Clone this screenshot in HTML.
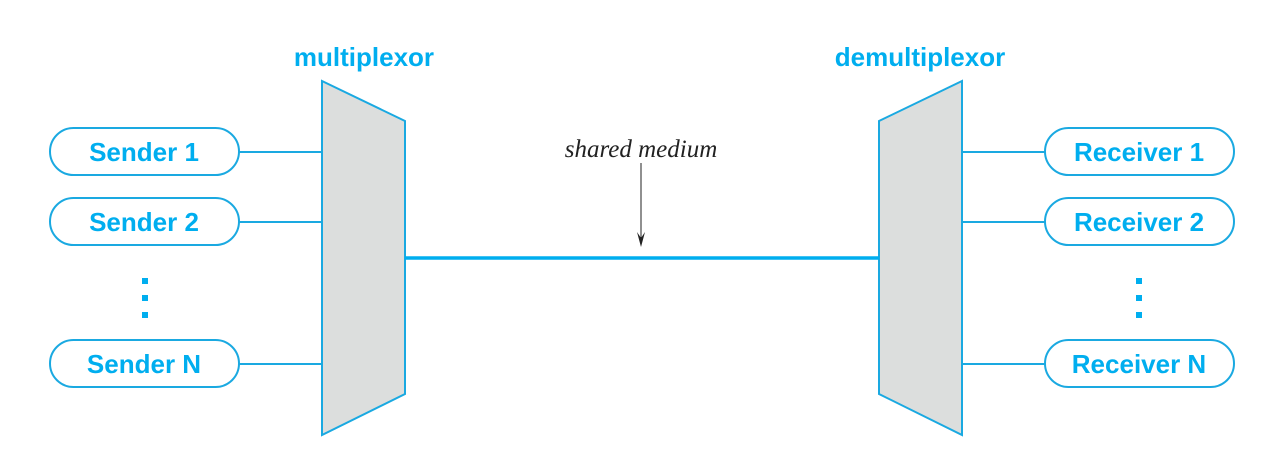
<!DOCTYPE html>
<html><head><meta charset="utf-8"><style>
html,body{margin:0;padding:0;background:#fff;}
svg{display:block;}
.b{font-family:"Liberation Sans",sans-serif;font-weight:bold;fill:#00aeef;font-size:26px;}
</style></head><body>
<svg width="1269" height="468" viewBox="0 0 1269 468" xmlns="http://www.w3.org/2000/svg">
<g stroke="#1aa9e1" stroke-width="2" fill="none">
<line x1="239" y1="152" x2="322" y2="152"/>
<line x1="239" y1="222" x2="322" y2="222"/>
<line x1="239" y1="364" x2="322" y2="364"/>
<line x1="962" y1="152" x2="1045" y2="152"/>
<line x1="962" y1="222" x2="1045" y2="222"/>
<line x1="962" y1="364" x2="1045" y2="364"/>
<rect x="50" y="128" width="189" height="47" rx="23.5"/>
<rect x="50" y="198" width="189" height="47" rx="23.5"/>
<rect x="50" y="340" width="189" height="47" rx="23.5"/>
<rect x="1045" y="128" width="189" height="47" rx="23.5"/>
<rect x="1045" y="198" width="189" height="47" rx="23.5"/>
<rect x="1045" y="340" width="189" height="47" rx="23.5"/>
<polygon points="322,81 405,121 405,394 322,435" fill="#dcdedd"/>
<polygon points="962,81 879,121 879,394 962,435" fill="#dcdedd"/>
</g>
<line x1="405" y1="258" x2="879" y2="258" stroke="#00aeef" stroke-width="3.5"/>
<line x1="641" y1="163" x2="641" y2="240" stroke="#222" stroke-width="1"/>
<polygon points="637,232 641,247 645,232 641,238" fill="#222"/>
<g fill="#00aeef">
<rect x="142" y="278" width="6" height="6"/><rect x="142" y="295" width="6" height="6"/><rect x="142" y="312" width="6" height="6"/>
<rect x="1136" y="278" width="6" height="6"/><rect x="1136" y="295" width="6" height="6"/><rect x="1136" y="312" width="6" height="6"/>
</g>
<text class="b" x="364" y="66" text-anchor="middle">multiplexor</text>
<text class="b" x="920" y="66" text-anchor="middle">demultiplexor</text>
<text class="b" x="144" y="161" text-anchor="middle">Sender 1</text>
<text class="b" x="144" y="231" text-anchor="middle">Sender 2</text>
<text class="b" x="144" y="373" text-anchor="middle">Sender N</text>
<text class="b" x="1139" y="161" text-anchor="middle">Receiver 1</text>
<text class="b" x="1139" y="231" text-anchor="middle">Receiver 2</text>
<text class="b" x="1139" y="373" text-anchor="middle">Receiver N</text>
<text x="641" y="157" text-anchor="middle" font-family="Liberation Serif,serif" font-style="italic" font-size="25" fill="#222">shared medium</text>
</svg>
</body></html>
